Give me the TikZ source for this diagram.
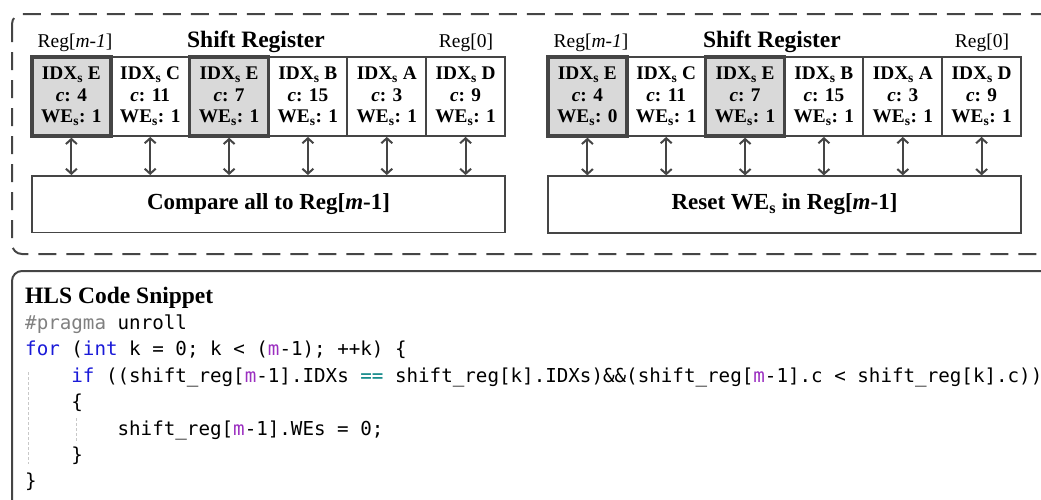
\documentclass[tikz,border=0pt]{standalone}
\usepackage{fontspec}
\setmainfont{Liberation Serif}
\setmonofont{DejaVu Sans Mono}
\usetikzlibrary{arrows.meta}

\definecolor{edge}{HTML}{454545}
\definecolor{hlfill}{HTML}{D9D9D9}
\definecolor{pgray}{HTML}{808080}
\definecolor{kw}{HTML}{1A1AD8}
\definecolor{mv}{HTML}{9B2FC0}
\definecolor{opc}{HTML}{008080}
\definecolor{guidec}{HTML}{C8C8C8}

\newcommand{\kwd}[1]{{\color{kw}#1}}
\newcommand{\mvar}[1]{{\color{mv}#1}}
\newcommand{\opr}[1]{{\color{opc}#1}}
\newcommand{\cellt}[3]{IDX\textsubscript{s} #1\\\textit{c}: #2\\WE\textsubscript{s}: #3}

\tikzset{
  frame/.style={draw=edge, line width=2pt, rounded corners=10pt},
  dashframe/.style={frame, dash pattern=on 18pt off 10pt},
  cell/.style={draw=edge, line width=1.8pt, fill=white, minimum width=78.8pt,
    minimum height=79pt, inner sep=0pt, align=center,
    font=\fontsize{19.3}{21.5}\selectfont\bfseries},
  hl/.style={fill=hlfill, line width=3.4pt},
  unit/.style={draw=edge, line width=1.8pt, minimum width=473pt,
    minimum height=56.5pt, inner sep=0pt, font=\fontsize{23}{26}\selectfont\bfseries},
  reglbl/.style={inner sep=0pt, font=\fontsize{19.5}{22}\selectfont},
  title/.style={inner sep=0pt, font=\fontsize{23.5}{26}\selectfont\bfseries},
  biarrow/.style={draw=edge, line width=2pt,
    {Straight Barb[length=5pt,width=11pt]}-{Straight Barb[length=5pt,width=11pt]}},
  codeline/.style={anchor=base west, inner sep=0pt,
    font=\fontsize{19.2}{26}\selectfont\ttfamily\frenchspacing},
  guide/.style={draw=guidec, line width=0.8pt, dash pattern=on 3pt off 2pt}
}

\begin{document}
\begin{tikzpicture}[x=1pt, y=-1pt]
\useasboundingbox (0,0) rectangle (1041,499);

% outer frames (they run past the right and bottom edges)
\begin{scope}
  \clip (0,0) rectangle (1041,499);
  \draw[dashframe] (12,14) rectangle (1100,254);
  \draw[frame] (12,271) rectangle (1100,560);
\end{scope}

% ---- left unit: compare ----
\node[reglbl] (lm) at (75,43) {Reg[\textit{m-1}]};
\node[title]  (lt) at (256,42) {Shift Register};
\node[reglbl] (l0) at (466,43) {Reg[0]};

\node[cell] (L2) at (150.2,96.5) {\cellt{C}{11}{1}};
\node[cell] (L4) at (307.9,96.5) {\cellt{B}{15}{1}};
\node[cell] (L5) at (386.8,96.5) {\cellt{A}{3}{1}};
\node[cell] (L6) at (465.6,96.5) {\cellt{D}{9}{1}};
\node[cell,hl] (L1) at (71.4,96.5) {\cellt{E}{4}{1}};
\node[cell,hl] (L3) at (229.1,96.5) {\cellt{E}{7}{1}};

\node[unit] (cmp) at (268.5,204.2) {Compare all to Reg[\textit{m}-1]};

\foreach \c in {L1,L2,L3,L4,L5,L6}
  \draw[biarrow] (\c.south) -- (\c.south |- cmp.north);

% ---- right unit: reset ----
\node[reglbl] (rm) at (591,43) {Reg[\textit{m-1}]};
\node[title]  (rt) at (772,42) {Shift Register};
\node[reglbl] (r0) at (982,43) {Reg[0]};

\node[cell] (R2) at (666.2,96.5) {\cellt{C}{11}{1}};
\node[cell] (R4) at (823.9,96.5) {\cellt{B}{15}{1}};
\node[cell] (R5) at (902.8,96.5) {\cellt{A}{3}{1}};
\node[cell] (R6) at (981.6,96.5) {\cellt{D}{9}{1}};
\node[cell,hl] (R1) at (587.4,96.5) {\cellt{E}{4}{0}};
\node[cell,hl] (R3) at (745.1,96.5) {\cellt{E}{7}{1}};

\node[unit] (rst) at (784.5,204.5) {Reset WE\textsubscript{s} in Reg[\textit{m}-1]};

\foreach \c in {R1,R2,R3,R4,R5,R6}
  \draw[biarrow] (\c.south) -- (\c.south |- rst.north);

% ---- code panel ----
\node[title, anchor=base west] (hls) at (25,303) {HLS Code Snippet};

\draw[guide] (28,372) -- (28,464);
\draw[guide] (76,418) -- (76,443);

\begin{scope}
  \clip (0,0) rectangle (1041,499);
  \node[codeline] (c1) at (25,329) {{\color{pgray}\#pragma} unroll};
  \node[codeline] (c2) at (25,355.5) {\kwd{for} (\kwd{int} k = 0; k < (\mvar{m}-1); ++k) \{};
  \node[codeline] (c3) at (71.2,382) {\kwd{if} ((shift\_reg[\mvar{m}-1].IDXs \opr{==} shift\_reg[k].IDXs)\&\&(shift\_reg[\mvar{m}-1].c < shift\_reg[k].c))};
  \node[codeline] (c4) at (71.2,408.5) {\{};
  \node[codeline] (c5) at (117.4,435) {shift\_reg[\mvar{m}-1].WEs = 0;};
  \node[codeline] (c6) at (71.2,461) {\}};
  \node[codeline] (c7) at (25,487) {\}};
\end{scope}
\end{tikzpicture}
\end{document}
